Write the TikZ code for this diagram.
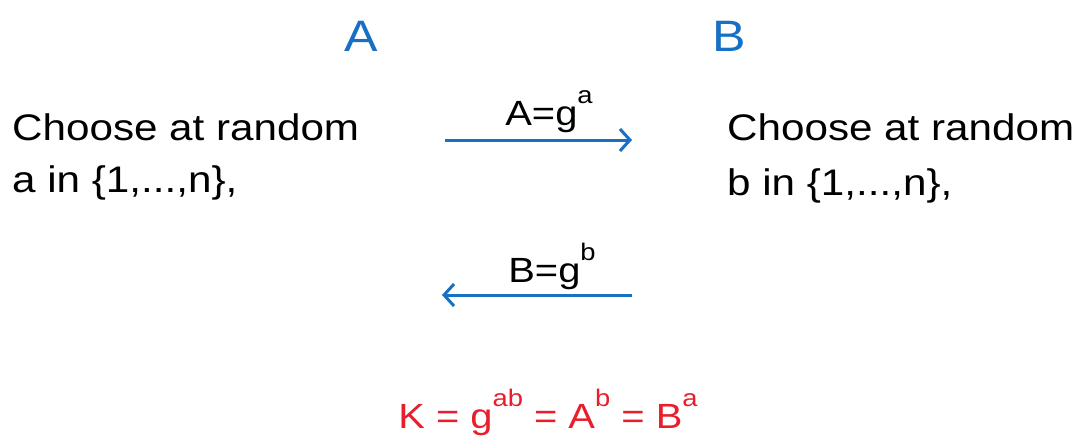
\documentclass[tikz,border=0pt]{standalone}
\usepackage{fontspec}
\setmainfont{Liberation Sans}[FakeStretch=1.14]
\usetikzlibrary{arrows.meta}
\definecolor{myblue}{RGB}{24,112,196}
\definecolor{myred}{RGB}{232,30,45}
\newcommand{\sups}[1]{\raisebox{0.62em}{\fontsize{24}{24}\selectfont #1}}
\tikzset{
  txt/.style={anchor=base west, inner sep=0pt, font=\fontsize{37}{44}\selectfont},
  party/.style={anchor=base, inner sep=0pt, text=myblue, font=\fontsize{44}{44}\selectfont},
  msg/.style={anchor=base, inner sep=0pt, font=\fontsize{35}{36}\selectfont},
  arr/.style={draw=myblue, line width=3pt, -{Straight Barb[length=10pt,width=22pt,line width=3pt]}},
}
\begin{document}
\begin{tikzpicture}[x=1pt,y=-1pt]
\useasboundingbox (0,0) rectangle (1079,444);
\node[party] (A) at (361,52) {A};
\node[party] (B) at (729,52) {B};
\node[txt] (la1) at (12,140) {Choose at random};
\node[txt] (la2) at (12,192) {a in \{1,...,n\},};
\node[txt] (lb1) at (727,140) {Choose at random};
\node[txt] (lb2) at (727,195) {b in \{1,...,n\},};
\coordinate (a1s) at (445,140);
\coordinate (a1e) at (632,140);
\coordinate (a2s) at (632,295);
\coordinate (a2e) at (442,295);
\draw[arr] (a1s) -- (a1e);
\draw[arr] (a2s) -- (a2e);
\node[msg] (m1) at (549,125) {A=g\sups{a}};
\node[msg] (m2) at (552,282) {B=g\sups{b}};
\node[msg, text=myred] (k) at (548,428) {K = g\sups{ab} = A\sups{b} = B\sups{a}};
\end{tikzpicture}
\end{document}
